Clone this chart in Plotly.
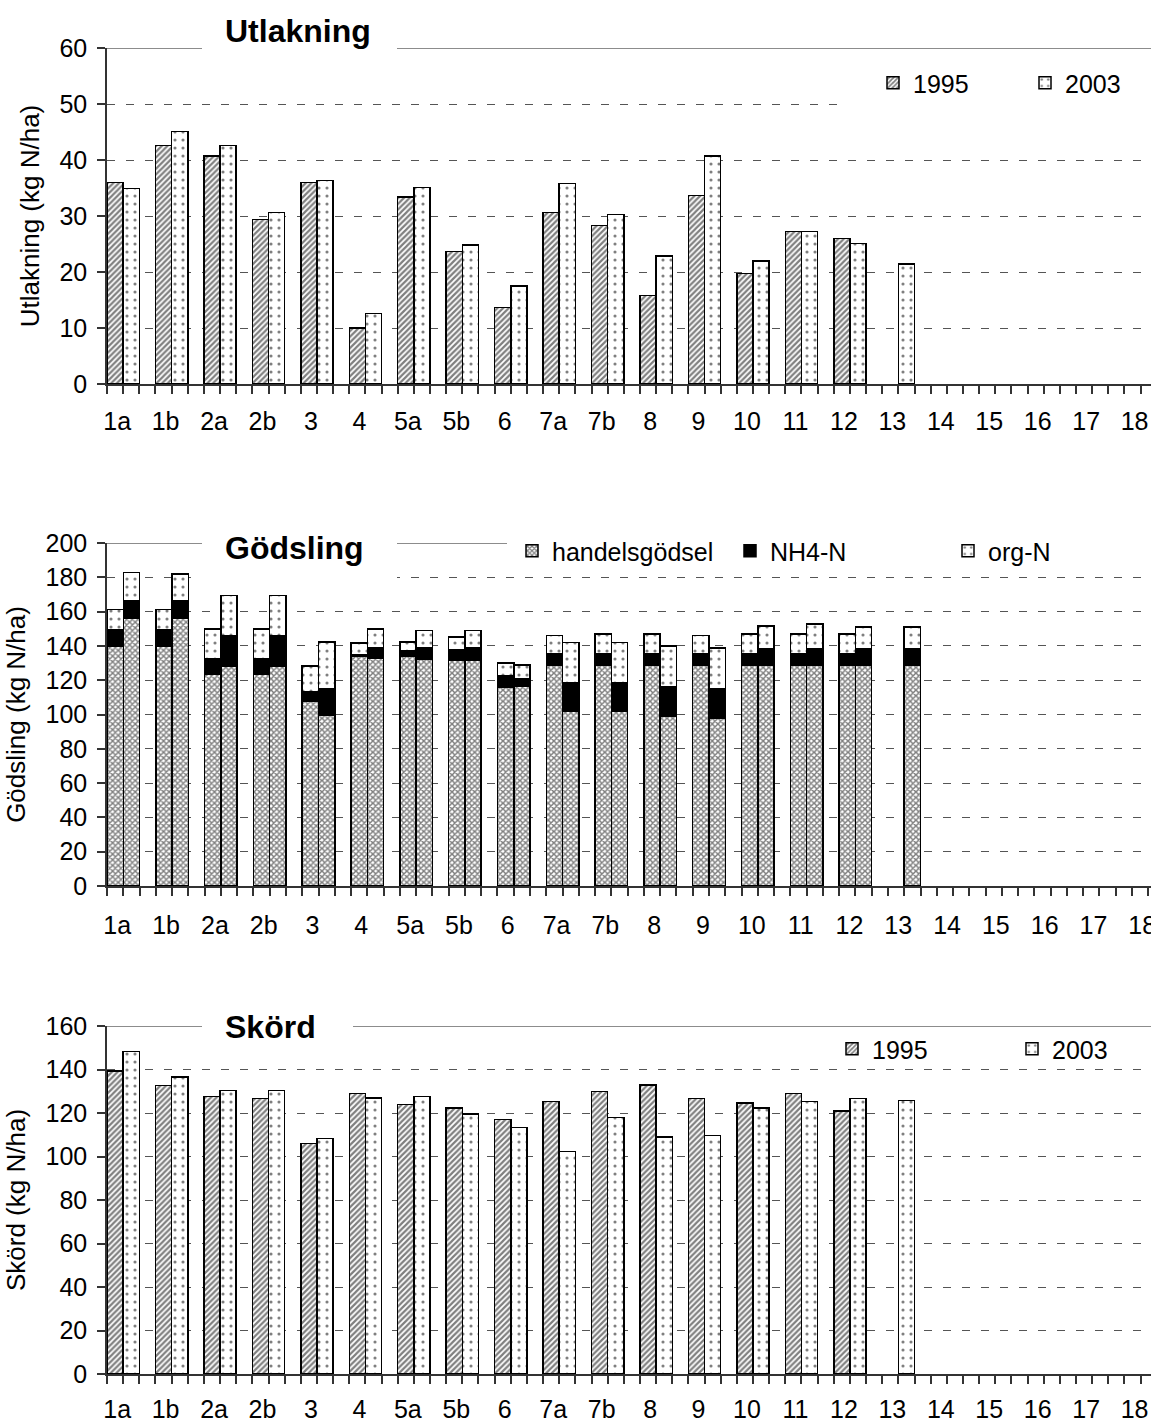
import plotly.graph_objects as go

# ---------------- data ----------------
cats = ["1a", "1b", "2a", "2b", "3", "4", "5a", "5b", "6", "7a", "7b", "8", "9",
        "10", "11", "12", "13", "14", "15", "16", "17", "18"]

utl_1995 = [36.0, 42.6, 40.7, 29.4, 36.0, 10.0, 33.4, 23.7, 13.7, 30.6, 28.3, 15.8, 33.7,
            19.7, 27.2, 26.0, None, None, None, None, None, None]
utl_2003 = [34.9, 45.1, 42.6, 30.6, 36.3, 12.6, 35.1, 24.8, 17.5, 35.8, 30.3, 22.9, 40.7,
            22.0, 27.2, 25.1, 21.4, None, None, None, None, None]

handels_1995 = [140, 140, 123.6, 123.6, 107.5, 133.9, 133.9, 131.6, 115.7, 129, 129, 129, 129,
                129, 129, 129, None, None, None, None, None, None]
nh4_1995 = [9.6, 9.6, 8.8, 8.8, 5.9, 1.0, 3.0, 6.2, 7.1, 6.3, 6.3, 6.3, 6.3,
            6.3, 6.3, 6.3, None, None, None, None, None, None]
org_1995 = [11.7, 11.7, 17.6, 17.6, 15.0, 6.8, 5.4, 7.5, 7.2, 10.7, 11.7, 11.7, 10.7,
            11.7, 11.7, 11.7, None, None, None, None, None, None]
handels_2003 = [156, 156, 128, 128, 99.7, 132.9, 132.0, 131.6, 116.3, 101.7, 101.7, 98.7, 97.7,
                129, 129, 129, 129, None, None, None, None, None]
nh4_2003 = [10.6, 10.6, 18.2, 18.2, 15.1, 5.9, 6.8, 7.2, 4.5, 16.6, 16.6, 17.6, 17.1,
            9.2, 9.2, 9.2, 9.2, None, None, None, None, None]
org_2003 = [16.2, 15.2, 23.3, 23.3, 27.5, 11.2, 10.2, 10.2, 8.2, 23.8, 23.8, 23.5, 24.0,
            13.3, 14.7, 12.8, 12.8, None, None, None, None, None]

sk_1995 = [139.4, 132.6, 127.5, 126.7, 106.0, 129.0, 123.8, 122.2, 117.0, 125.3, 129.8, 132.8, 126.7,
           124.6, 129.0, 120.9, None, None, None, None, None, None]
sk_2003 = [148.2, 136.5, 130.4, 130.4, 108.2, 126.9, 127.5, 119.5, 113.4, 102.3, 117.9, 108.9, 109.7,
           122.2, 125.3, 126.7, 125.8, None, None, None, None, None]

# ---------------- geometry / style ----------------
W, H = 1151, 1423
FONT = "Liberation Sans, Arial, sans-serif"
n = len(cats)
x95 = [3 * i + 0.5 for i in range(n)]
x03 = [3 * i + 1.5 for i in range(n)]
tickvals = list(range(0, 3 * n + 1))
ticktext = [cats[(v - 1) // 3] if (v % 3 == 1 and (v - 1) // 3 < n) else "" for v in tickvals]


def px(x):
    return x / W


def py(y):
    return 1 - y / H


P95 = dict(shape="/", fgcolor="black", bgcolor="white", size=4, solidity=0.55)
P03 = dict(shape=".", fgcolor="black", bgcolor="white", size=8, solidity=0.12)
PHAN = dict(shape="x", fgcolor="black", bgcolor="white", size=4, solidity=0.6)
OUT = dict(color="black", width=1.5)

fig = go.Figure()

# Utlakning
fig.add_trace(go.Bar(x=x95, y=utl_1995, width=1, name="1995", xaxis="x", yaxis="y",
                     marker=dict(color="white", pattern=P95, line=OUT), legend="legend"))
fig.add_trace(go.Bar(x=x03, y=utl_2003, width=1, name="2003", xaxis="x", yaxis="y",
                     marker=dict(color="white", pattern=P03, line=OUT), legend="legend"))

# Gödsling (stacked)
gx = x95 + x03
fig.add_trace(go.Bar(x=gx, y=handels_1995 + handels_2003, width=1, name="handelsgödsel",
                     xaxis="x2", yaxis="y2", legend="legend2",
                     marker=dict(color="white", pattern=PHAN, line=OUT)))
fig.add_trace(go.Bar(x=gx, y=nh4_1995 + nh4_2003, width=1, name="NH4-N",
                     xaxis="x2", yaxis="y2", legend="legend2",
                     marker=dict(color="black", line=OUT)))
fig.add_trace(go.Bar(x=gx, y=org_1995 + org_2003, width=1, name="org-N",
                     xaxis="x2", yaxis="y2", legend="legend2",
                     marker=dict(color="white", pattern=P03, line=OUT)))

# Skörd
fig.add_trace(go.Bar(x=x95, y=sk_1995, width=1, name="1995", xaxis="x3", yaxis="y3",
                     marker=dict(color="white", pattern=P95, line=OUT), legend="legend3"))
fig.add_trace(go.Bar(x=x03, y=sk_2003, width=1, name="2003", xaxis="x3", yaxis="y3",
                     marker=dict(color="white", pattern=P03, line=OUT), legend="legend3"))

X0 = px(107)


def xax(anchor, slot, standoff):
    return dict(domain=[X0, 1], range=[0, (W - 107) / slot], anchor=anchor,
                tickmode="array", tickvals=tickvals, ticktext=ticktext,
                ticks="outside", ticklen=8, tickwidth=1.5, tickcolor="#333",
                showline=True, linecolor="#333", linewidth=1.5,
                showgrid=False, zeroline=False, ticklabelstandoff=standoff, ticklabelshift=-6,
                ticklabeloverflow="allow",
                tickfont=dict(family=FONT, size=25, color="black"))


def yax(anchor, dom, top, dtick, title):
    return dict(domain=dom, range=[0, top], dtick=dtick, anchor=anchor,
                ticks="outside", ticklen=8, tickwidth=1.5, tickcolor="#333",
                showline=True, linecolor="#333", linewidth=1.5,
                showgrid=True, gridcolor="#555", gridwidth=1, griddash="8px,11px",
                zeroline=False, ticklabelstandoff=5,
                tickfont=dict(family=FONT, size=25, color="black"),
                title=dict(text=title, font=dict(family=FONT, size=26, color="black"), standoff=12))


def leg(x, y, ew):
    return dict(orientation="h", x=px(x), y=py(y), xanchor="left", yanchor="middle",
                entrywidth=ew, entrywidthmode="pixels", bgcolor="rgba(0,0,0,0)",
                font=dict(family=FONT, size=25, color="black"), traceorder="normal")


shapes = []
# solid grey top border lines
for xr, yr, top in [("x", "y", 60), ("x2", "y2", 200), ("x3", "y3", 160)]:
    shapes.append(dict(type="line", xref=xr + " domain", yref=yr, x0=0, x1=1, y0=top, y1=top,
                       line=dict(color="#8c8c8c", width=2), layer="above"))
# white boxes behind titles / legends
for (x0, x1, y0, y1) in [(202, 397, 26, 62), (848, 1151, 60, 112),
                         (202, 397, 525, 586), (507, 1151, 534, 570),
                         (202, 353, 1008, 1042)]:
    shapes.append(dict(type="rect", xref="paper", yref="paper", x0=px(x0), x1=px(x1),
                       y0=py(y1), y1=py(y0), fillcolor="white", line=dict(width=0), layer="above"))

annotations = []
for text, y in [("Utlakning", 31), ("Gödsling", 548), ("Skörd", 1027)]:
    annotations.append(dict(text="<b>" + text + "</b>", xref="paper", yref="paper",
                            x=px(223), y=py(y), xanchor="left", yanchor="middle",
                            showarrow=False, font=dict(family=FONT, size=32, color="black")))

fig.update_layout(
    width=W, height=H, margin=dict(l=0, r=0, t=0, b=0, autoexpand=False),
    paper_bgcolor="white", plot_bgcolor="white", barmode="stack",
    font=dict(family=FONT, color="black"),
    xaxis=xax("y", 16.15, 6), xaxis2=xax("y2", 16.27, 8), xaxis3=xax("y3", 16.15, 4),
    yaxis=yax("x", [py(384), py(48)], 60, 10, "Utlakning (kg N/ha)"),
    yaxis2=yax("x2", [py(886), py(543)], 200, 20, "Gödsling (kg N/ha)"),
    yaxis3=yax("x3", [py(1374), py(1026)], 160, 20, "Skörd (kg N/ha)"),
    legend=leg(873, 83, 107), legend2=leg(512, 551, 173), legend3=leg(832, 1049, 135),
    shapes=shapes, annotations=annotations,
)

fig.write_html("out.html", config={"displayModeBar": False},
               post_script="document.body.style.margin='0';document.body.style.overflow='hidden';")
